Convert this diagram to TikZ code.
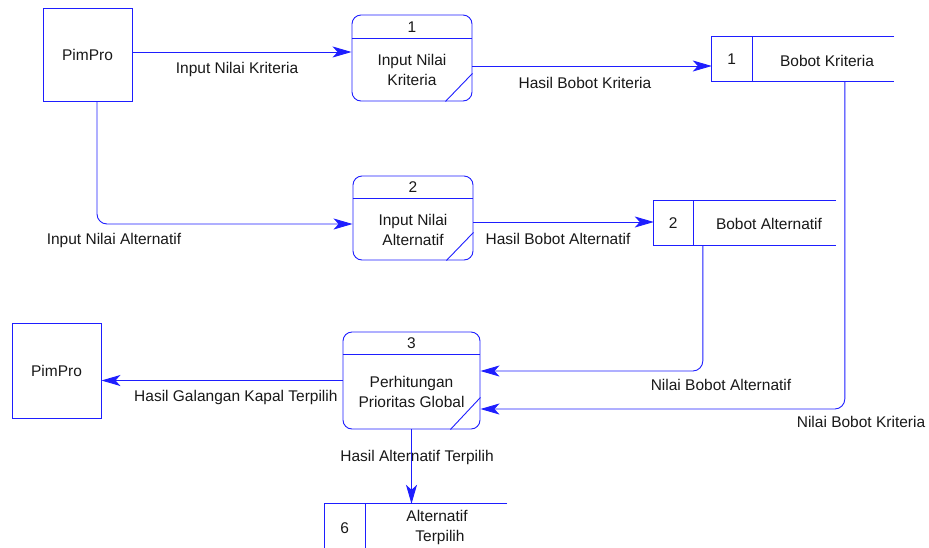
\documentclass[tikz,border=0pt]{standalone}
\usepackage{fontspec}
\setmainfont{Liberation Sans}
\usetikzlibrary{arrows.meta,calc}
\definecolor{dfd}{RGB}{30,30,255}
\definecolor{txt}{RGB}{25,25,25}
\tikzset{
  every node/.style={font=\fontsize{15.5}{20}\selectfont, text=txt, inner sep=0pt},
  ent/.style={draw=dfd, line width=0.9pt, fill=white},
  proc/.style={draw=dfd, line width=0.9pt, rounded corners=9pt, fill=white},
  storebox/.style={minimum width=182pt, minimum height=44pt},
  ln/.style={draw=dfd, line width=0.9pt},
  flow/.style={draw=dfd, line width=0.9pt, -{Stealth[length=19pt,width=11pt,inset=5pt]}},
  lbl/.style={align=center}
}
\begin{document}
\begin{tikzpicture}[x=1pt,y=-1pt]
\clip (0,0) rectangle (929,547);
\fill[white] (0,0) rectangle (929,547);

% label that is partly hidden behind process 3
\node[anchor=west] (l7) at (134,397) {Hasil Galangan Kapal Terpilih\hspace*{3pt}};

% external entities
\node[ent, minimum width=89pt, minimum height=93pt] (pim1) at (87.5,54.5) {};
\node (pim1t) at (pim1.center) {PimPro};
\node[ent, minimum width=89pt, minimum height=95pt] (pim2) at (56.5,370.5) {};
\node (pim2t) at (pim2.center) {PimPro};

% processes
\node[proc, minimum width=120pt, minimum height=86pt] (p1) at (412,58) {};
\draw[ln] ($(p1.north west)+(0,24)$) -- ($(p1.north east)+(0,24)$);
\draw[ln] ($(p1.south east)+(-27,0)$) -- ($(p1.south east)+(0,-28)$);
\node (p1n) at ($(p1.north)+(0,12.5)$) {1};
\node[lbl] (p1t) at ($(p1.center)+(0,12)$) {Input Nilai\\Kriteria};

\node[proc, minimum width=120pt, minimum height=84pt] (p2) at (413,218) {};
\draw[ln] ($(p2.north west)+(0,23)$) -- ($(p2.north east)+(0,23)$);
\draw[ln] ($(p2.south east)+(-27,0)$) -- ($(p2.south east)+(0,-28)$);
\node (p2n) at ($(p2.north)+(0,12)$) {2};
\node[lbl] (p2t) at ($(p2.center)+(0,11.5)$) {Input Nilai\\Alternatif};

\node[proc, minimum width=137pt, minimum height=97pt] (p3) at (411.5,380.5) {};
\draw[ln] ($(p3.north west)+(0,23)$) -- ($(p3.north east)+(0,23)$);
\draw[ln] ($(p3.south east)+(-30,0)$) -- ($(p3.south east)+(0,-32)$);
\node (p3n) at ($(p3.north)+(0,11.5)$) {3};
\node[lbl] (p3t) at ($(p3.center)+(0,11.5)$) {Perhitungan\\Prioritas Global};

% data stores
\node[storebox] (s1) at (803,59) {};
\draw[ln] (s1.north east) -- (s1.north west) -- (s1.south west) -- (s1.south east);
\draw[ln] ($(s1.north west)+(41,0)$) -- ($(s1.south west)+(41,0)$);
\node (s1n) at ($(s1.west)+(20,0)$) {1};
\node (s1t) at (827,61) {Bobot Kriteria};

\node[storebox] (s2) at (745,223) {};
\draw[ln] (s2.north east) -- (s2.north west) -- (s2.south west) -- (s2.south east);
\draw[ln] ($(s2.north west)+(40,0)$) -- ($(s2.south west)+(40,0)$);
\node (s2n) at ($(s2.west)+(19.5,0)$) {2};
\node (s2t) at (769,224) {Bobot Alternatif};

\node[storebox] (s6) at (416,526) {};
\draw[ln] (s6.north east) -- (s6.north west) -- (s6.south west) -- (s6.south east);
\draw[ln] ($(s6.north west)+(41,0)$) -- ($(s6.south west)+(41,0)$);
\node (s6n) at ($(s6.west)+(20,2)$) {6};
\node[lbl] (s6t) at (437,527) {Alternatif\\\hspace*{6pt}Terpilih};

% flows
\coordinate (a1) at ($(pim1.east)+(0,-2.5)$);
\draw[flow] (a1) -- (a1 -| p1.west);
\node (l1) at (237,69) {Input Nilai Kriteria};

\coordinate (a2) at ($(p1.east)+(0,8)$);
\draw[flow] (a2) -- (a2 -| s1.west);
\node (l2) at (585,83) {Hasil Bobot Kriteria};

\coordinate (b3) at ($(pim1.south)+(9.5,0)$);
\coordinate (a3) at ($(p2.west)+(0,6)$);
\draw[flow, rounded corners=10pt] (b3) |- (a3);
\node (l3) at (114,240) {Input Nilai Alternatif};

\coordinate (a4) at ($(p2.east)+(0,4)$);
\draw[flow] (a4) -- (a4 -| s2.west);
\node (l4) at (558,239) {Hasil Bobot Alternatif};

\coordinate (b5) at ($(s1.south west)+(133,0)$);
\coordinate (a5) at ($(p3.east)+(0,28.5)$);
\draw[flow, rounded corners=10pt] (b5) |- (a5);
\node (l5) at (861,422) {Nilai Bobot Kriteria};

\coordinate (b6) at ($(s2.south west)+(49,0)$);
\coordinate (a6) at ($(p3.east)+(0,-9.5)$);
\draw[flow, rounded corners=10pt] (b6) |- (a6);
\node (l6) at (721,385) {Nilai Bobot Alternatif};

\draw[flow] (p3.west) -- (p3.west -| pim2.east);

\draw[flow] (p3.south) -- (p3.south |- s6.north);
\node (l8) at (417,457) {Hasil Alternatif Terpilih};
\end{tikzpicture}
\end{document}
